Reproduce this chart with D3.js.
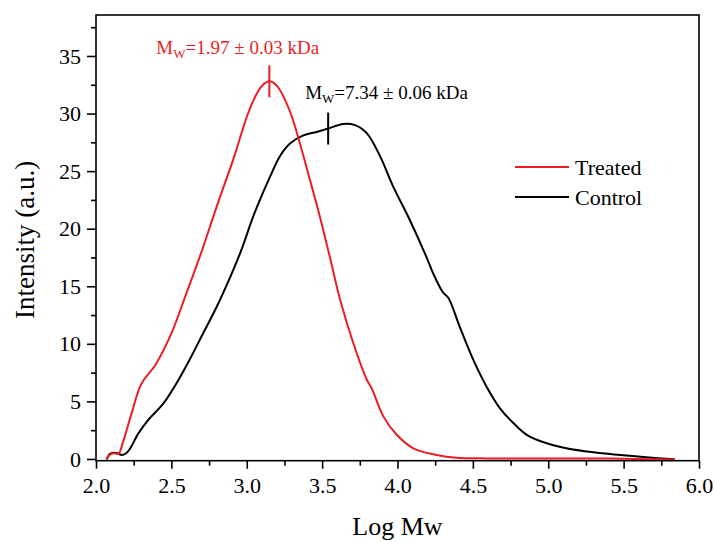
<!DOCTYPE html>
<html>
<head>
<meta charset="utf-8">
<script src="https://cdn.jsdelivr.net/npm/d3@7"></script>
<style>
   body { margin: 0; background: #fff; }
   svg text { font-family: "Liberation Serif", "Times New Roman", serif; }
</style>
</head>
<body>
<script>
"use strict"

// log Mw / intensity
const treated_x = [2.07, 2.09, 2.115, 2.148, 2.18, 2.237, 2.30, 2.40, 2.50, 2.60, 2.70, 2.80, 2.91, 3.00, 3.05, 3.10, 3.154, 3.20, 3.25, 3.30, 3.353, 3.42, 3.486, 3.55, 3.62, 3.707, 3.796, 3.83, 3.906, 3.995, 4.105, 4.26, 4.39, 4.6, 5.0, 5.4, 5.84]
const treated_y = [0, 0.35, 0.5, 0.45, 1.5, 4.0, 6.5, 8.3, 10.9, 14.4, 18.0, 21.9, 26.0, 29.7, 31.3, 32.4, 32.8, 32.4, 31.3, 29.7, 27.4, 24.2, 21.0, 17.6, 13.8, 10.05, 6.9, 6.1, 3.7, 2.1, 0.93, 0.35, 0.1, 0.05, 0.05, 0.04, -0.05]

const control_x = [2.07, 2.093, 2.115, 2.14, 2.17, 2.20, 2.226, 2.28, 2.347, 2.446, 2.535, 2.62, 2.71, 2.80, 2.89, 2.96, 3.05, 3.154, 3.22, 3.287, 3.375, 3.464, 3.54, 3.64, 3.718, 3.796, 3.884, 3.97, 4.08, 4.19, 4.237, 4.30, 4.337, 4.415, 4.503, 4.59, 4.68, 4.77, 4.857, 4.99, 5.12, 5.30, 5.476, 5.65, 5.84]
const control_y = [-0.05, 0.45, 0.55, 0.5, 0.35, 0.5, 0.9, 2.2, 3.4, 4.8, 6.6, 8.6, 10.9, 13.2, 15.8, 18.0, 21.3, 24.5, 26.3, 27.4, 28.1, 28.4, 28.7, 29.1, 29.0, 28.3, 26.3, 23.7, 20.8, 17.6, 16.1, 14.5, 14.0, 11.4, 8.6, 6.3, 4.4, 3.1, 2.1, 1.36, 0.93, 0.58, 0.35, 0.15, -0.03]

const x_ticks = [2.0, 2.5, 3.0, 3.5, 4.0, 4.5, 5.0, 5.5, 6.0]
const y_ticks = [0, 5, 10, 15, 20, 25, 30, 35]

const series_names = ['Treated', 'Control']
const series_colors = ['#ec1c24', '#000000']
// weight-average markers: log Mw, intensity, label value
const marker_x = [3.15, 3.54]
const marker_y = [32.8, 28.7]
const marker_text = ['=1.97 \u00b1 0.03 kDa', '=7.34 \u00b1 0.06 kDa']

const w = 715
const h = 542
const m_left = 96, m_right = 699, m_top = 15, m_bottom = 460.7
const serif = '"Liberation Serif", "Times New Roman", serif'

const x_scale = d3.scaleLinear([2, 6], [m_left, m_right])
const y_scale = d3.scaleLinear([-0.15, 38.56], [m_bottom, m_top])

let svg = d3.select('body')
   .append('svg')
      .attr('width', w)
      .attr('height', h)
      .style('font-family', serif)

const line = d3.line()
   .x(d => x_scale(d[0]))
   .y(d => y_scale(d[1]))
   .curve(d3.curveCatmullRom.alpha(0.5))

const series = [
   d3.zip(treated_x, treated_y),
   d3.zip(control_x, control_y)
]

// control first so the red sits on top near the baseline
;[1, 0].forEach(i => {
   svg.append('path')
      .datum(series[i])
      .attr('fill', 'none')
      .attr('stroke', series_colors[i])
      .attr('stroke-width', 2)
      .attr('stroke-linejoin', 'round')
      .attr('d', line)
})

// frame
svg.append('rect')
   .attr('x', m_left)
   .attr('y', m_top)
   .attr('width', m_right - m_left)
   .attr('height', m_bottom - m_top)
   .attr('fill', 'none')
   .attr('stroke', '#000')
   .attr('stroke-width', 1.6)

// minor ticks
const x_minor = d3.range(2.25, 6, 0.5)
const y_minor = d3.range(2.5, 38, 5)

const x_axis = d3.axisBottom(x_scale)
   .tickValues(x_ticks)
   .tickFormat(d3.format('.1f'))
   .tickSize(8)
   .tickPadding(9)
const y_axis = d3.axisLeft(y_scale)
   .tickValues(y_ticks)
   .tickSize(9)
   .tickPadding(6)

svg.append('g')
   .attr('class', 'axis')
   .attr('transform', `translate(0, ${m_bottom})`)
   .call(x_axis)
svg.append('g')
   .attr('transform', `translate(0, ${m_bottom})`)
   .call(d3.axisBottom(x_scale).tickValues(x_minor).tickSize(5).tickFormat(''))

svg.append('g')
   .attr('class', 'axis')
   .attr('transform', `translate(${m_left}, 0)`)
   .call(y_axis)
svg.append('g')
   .attr('transform', `translate(${m_left}, 0)`)
   .call(d3.axisLeft(y_scale).tickValues(y_minor).tickSize(5).tickFormat(''))

svg.selectAll('.domain').remove()
svg.selectAll('.axis').attr('font-family', null).attr('font-size', null)
svg.selectAll('.tick line').attr('stroke-width', 1.6)
svg.selectAll('.tick text')
   .style('font-family', serif)
   .style('font-size', '22px')
   .attr('fill', '#000')

// axis titles
svg.append('text')
   .attr('x', (m_left + m_right) / 2)
   .attr('y', 535)
   .attr('text-anchor', 'middle')
   .style('font-size', '26px')
   .text('Log Mw')

svg.append('text')
   .attr('transform', `translate(34, ${(m_top + m_bottom) / 2 + 2}) rotate(-90)`)
   .attr('text-anchor', 'middle')
   .style('font-size', '27px')
   .text('Intensity (a.u.)')

// Mw markers and labels
const label_dx = [-113, -23]
const label_dy = [-27, -30]
marker_x.forEach((mx, i) => {
   const px = x_scale(mx), py = y_scale(marker_y[i])
   svg.append('line')
      .attr('x1', px).attr('x2', px)
      .attr('y1', py - 16).attr('y2', py + 16)
      .attr('stroke', series_colors[i])
      .attr('stroke-width', 2)

   let t = svg.append('text')
      .attr('x', px + label_dx[i])
      .attr('y', py + label_dy[i])
      .style('font-size', '19px')
      .attr('fill', series_colors[i])
   t.append('tspan').text('M')
   t.append('tspan').style('font-size', '13px').attr('dy', 4).text('W')
   t.append('tspan').attr('dy', -4).text(marker_text[i])
})

// legend
series_names.forEach((name, i) => {
   const ly = 167 + i * 30
   svg.append('line')
      .attr('x1', 515).attr('x2', 569)
      .attr('y1', ly).attr('y2', ly)
      .attr('stroke', series_colors[i])
      .attr('stroke-width', 2)
   svg.append('text')
      .attr('x', 575)
      .attr('y', ly + 8)
      .style('font-size', '22px')
      .attr('fill', '#000')
      .text(name)
})
</script>
</body>
</html>
